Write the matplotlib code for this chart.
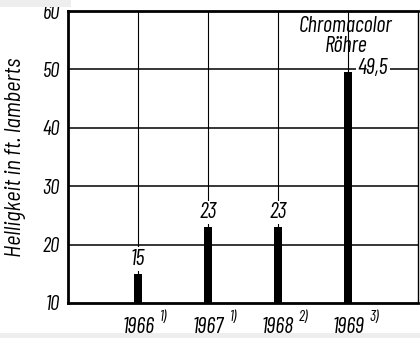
import matplotlib.pyplot as plt
from matplotlib.patches import Rectangle

# Helligkeit der Farbbildröhren 1966-1969
years = ["1966", "1967", "1968", "1969"]
notes = ["1)", "1)", "2)", "3)"]
values = [15, 23, 23, 49.5]
labels = ["15", "23", "23", "49,5"]

plt.rcParams["font.family"] = ["Barlow Condensed", "DejaVu Sans"]
plt.rcParams["font.style"] = "italic"

fig = plt.figure(figsize=(4.2, 3.38), dpi=100)
ax = fig.add_axes([0.162, 0.104, 0.833, 0.863])

x = list(range(1, len(years) + 1))
ax.set_xlim(0, 5)
ax.set_ylim(10, 60)

# Gitter
for y in [20, 30, 40, 50]:
    ax.axhline(y, color="black", lw=1.1, zorder=1)
for xi in x:
    ax.axvline(xi, color="black", lw=0.8, zorder=1)

ax.bar(x, [v - 10 for v in values], bottom=10, width=0.115, color="black", zorder=3)

white = dict(facecolor="white", edgecolor="none", pad=1)
for xi, v, lab in zip(x[:3], values[:3], labels[:3]):
    ax.annotate(lab, xy=(xi, v), xytext=(0, 10.5), textcoords="offset points",
                ha="center", va="center", fontsize=16, bbox=white, zorder=4)
ax.annotate(labels[3], xy=(x[3], values[3]), xytext=(18, 2.5), textcoords="offset points",
            ha="center", va="center", fontsize=16, bbox=white, zorder=4)

ax.text(3.97, 57.3, "Chromacolor", ha="center", va="center", fontsize=16)
ax.text(3.97, 53.9, "Röhre", ha="center", va="center", fontsize=16)

ax.set_yticks([10, 20, 30, 40, 50, 60])
ax.set_yticklabels(["10", "20", "30", "40", "50", "60"], fontsize=15)
ax.set_xticks(x)
ax.set_xticklabels([])
for xi, yr, n in zip(x, years, notes):
    ax.annotate(yr, xy=(xi, 10), xytext=(0, -17.5), textcoords="offset points",
                ha="center", va="center", fontsize=16)
    ax.annotate(n, xy=(xi, 10), xytext=(18.5, -10), textcoords="offset points",
                ha="center", va="center", fontsize=11)
ax.tick_params(length=0, pad=6)
ax.set_ylabel("Helligkeit in ft. lamberts", fontsize=16, labelpad=12,
              family=["Barlow Semi Condensed", "DejaVu Sans"])

for side in ["left", "bottom", "top"]:
    ax.spines[side].set_linewidth(2)
ax.spines["right"].set_linewidth(1)

# Rand des Scans
fig.patches.append(Rectangle((0, 0), 1, 0.016, transform=fig.transFigure,
                             facecolor="#eeeeee", edgecolor="none", zorder=5))
fig.patches.append(Rectangle((0, 0.978), 0.17, 0.022, transform=fig.transFigure,
                             facecolor="#eeeeee", edgecolor="none", zorder=5))

fig.savefig("out.png", dpi=100)
